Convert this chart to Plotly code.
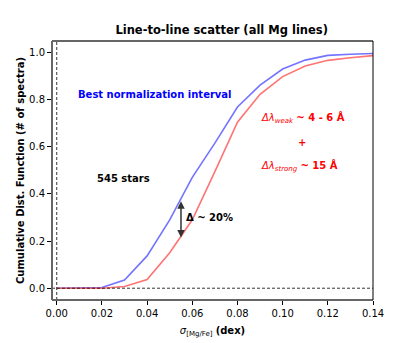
import plotly.graph_objects as go

sigma = [0.00, 0.01, 0.02, 0.03, 0.04, 0.05, 0.06, 0.07, 0.08, 0.09, 0.10, 0.11, 0.12, 0.13, 0.14]
cdf_best = [0.0, 0.0, 0.003, 0.035, 0.137, 0.29, 0.47, 0.615, 0.768, 0.861, 0.929, 0.967, 0.987, 0.992, 0.995]
cdf_wide = [0.0, 0.0, 0.0, 0.007, 0.037, 0.15, 0.29, 0.494, 0.704, 0.822, 0.897, 0.942, 0.966, 0.977, 0.986]
x_ticks = [0.00, 0.02, 0.04, 0.06, 0.08, 0.10, 0.12, 0.14]
y_ticks = [0.0, 0.2, 0.4, 0.6, 0.8, 1.0]

FONT = "DejaVu Sans"
fig = go.Figure()
fig.add_trace(go.Scatter(x=sigma, y=cdf_best, mode="lines",
                         line=dict(color="rgba(90,90,255,0.85)", width=1.6), showlegend=False))
fig.add_trace(go.Scatter(x=sigma, y=cdf_wide, mode="lines",
                         line=dict(color="rgba(255,90,90,0.85)", width=1.6), showlegend=False))

# dashed reference lines
fig.add_shape(type="line", x0=0, x1=0, y0=0, y1=1, xref="x", yref="paper",
              line=dict(color="black", width=0.8, dash="3px,2px"))
fig.add_shape(type="line", x0=0, x1=1, y0=0, y1=0, xref="paper", yref="y",
              line=dict(color="black", width=0.8, dash="3px,2px"))

# frame
fig.add_shape(type="line", x0=0, x1=0, y0=0, y1=1, xref="paper", yref="paper",
              line=dict(color="#666666", width=2))
fig.add_shape(type="line", x0=0, x1=1, y0=0, y1=0, xref="paper", yref="paper",
              line=dict(color="#666666", width=2))
fig.add_shape(type="line", x0=0, x1=1, y0=1, y1=1, xref="paper", yref="paper",
              line=dict(color="#666666", width=2))
fig.add_shape(type="line", x0=1, x1=1, y0=0, y1=1, xref="paper", yref="paper",
              line=dict(color="black", width=1))

# double arrow
fig.add_annotation(x=0.055, y=0.215, ax=0.055, ay=0.375, xref="x", yref="y", axref="x", ayref="y",
                   text="", showarrow=True, arrowhead=2, startarrowhead=2, arrowside="end+start",
                   arrowsize=1, arrowwidth=1.5, arrowcolor="#333333")
fig.add_annotation(x=0.0565, y=0.3, xref="x", yref="y", text="<b>Δ ~ 20%</b>", showarrow=False,
                   xanchor="left", font=dict(family=FONT, size=10, color="black"))
fig.add_annotation(x=0.0085, y=0.82, xref="x", yref="y", text="<b>Best normalization interval</b>",
                   showarrow=False, xanchor="left", font=dict(family=FONT, size=10, color="blue"))
fig.add_annotation(x=0.0295, y=0.467, xref="x", yref="y", text="<b>545 stars</b>",
                   showarrow=False, font=dict(family=FONT, size=10, color="black"))
fig.add_annotation(x=0.0895, y=0.72, xref="x", yref="y",
                   text="<i>Δλ</i><sub><i>weak</i></sub> <b>~ 4 - 6 Å</b>",
                   showarrow=False, xanchor="left", font=dict(family=FONT, size=10, color="red"))
fig.add_annotation(x=0.1085, y=0.617, xref="x", yref="y", text="<b>+</b>",
                   showarrow=False, font=dict(family=FONT, size=10, color="red"))
fig.add_annotation(x=0.0895, y=0.52, xref="x", yref="y",
                   text="<i>Δλ</i><sub><i>strong</i></sub> <b>~ 15 Å</b>",
                   showarrow=False, xanchor="left", font=dict(family=FONT, size=10, color="red"))

fig.update_layout(
    width=407, height=335,
    margin=dict(l=44, r=42, t=33, b=43),
    paper_bgcolor="white", plot_bgcolor="white",
    title=dict(text="<b>Line-to-line scatter (all Mg lines)</b>", x=0.525, xanchor="center",
               y=0.934, yanchor="middle", font=dict(family=FONT, size=11.5, color="black")),
    font=dict(family=FONT, size=10, color="black"),
    xaxis=dict(range=[-0.0021, 0.14], tickvals=x_ticks, tickformat=".2f", ticks="outside",
               ticklen=4, tickcolor="black", showgrid=False, zeroline=False, showline=False,
               automargin=False, tickfont=dict(family=FONT, size=10),
               title=dict(text="<i>σ</i><sub>[Mg/Fe]</sub> <b>(dex)</b>", standoff=8,
                          font=dict(family=FONT, size=10))),
    yaxis=dict(range=[-0.05, 1.048], tickvals=y_ticks, tickformat=".1f", ticks="outside",
               ticklen=4, tickcolor="black", showgrid=False, zeroline=False, showline=False,
               automargin=False, tickfont=dict(family=FONT, size=10),
               title=dict(text="<b>Cumulative Dist. Function (# of spectra)</b>", standoff=2,
                          font=dict(family=FONT, size=10))),
)
fig.write_html("out.html")
